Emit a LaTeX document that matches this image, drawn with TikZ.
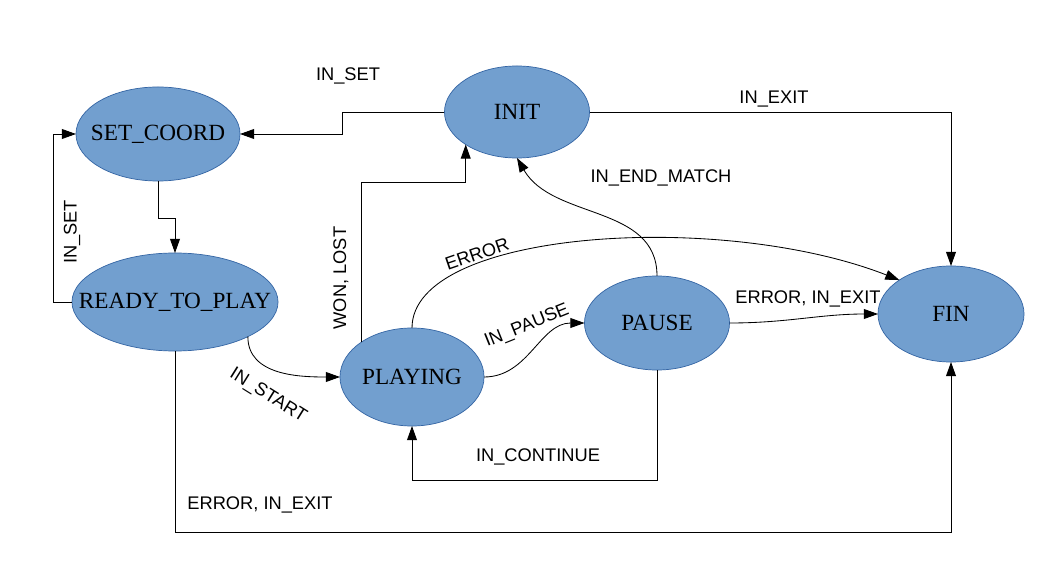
\documentclass[tikz,border=0pt]{standalone}
\usepackage{fontspec}
\setmainfont{Liberation Serif}
\setsansfont{Liberation Sans}
\usepackage{xcolor}
\usetikzlibrary{shapes.geometric,arrows.meta,positioning}

\definecolor{statefill}{HTML}{729FCF}
\definecolor{stateborder}{HTML}{3465A4}
\newcommand{\stname}[1]{\makebox[0pt]{#1}}

\begin{document}
\begin{tikzpicture}[
    x=0.025cm, y=-0.025cm,
    state/.style={ellipse, draw=stateborder, fill=statefill, line width=0.5pt, inner sep=0pt, outer sep=0pt, font=\fontsize{16.5}{18}\selectfont},
    arrow/.style={-{Triangle[length=10pt,width=7pt]}, line width=0.6pt},
    lbl/.style={font=\sffamily\fontsize{13}{15}\selectfont, inner sep=1pt}
]
    \fill[white] (0,0) rectangle (1056,576);
    \useasboundingbox (0,0) rectangle (1056,576);

    % States
    \node[state, minimum width=4.1cm, minimum height=2.35cm] (setc) at (158,134) {\stname{SET\_COORD}};
    \node[state, minimum width=3.625cm, minimum height=2.3cm] (init) at (517,112) {\stname{INIT}};
    \node[state, minimum width=5.15cm, minimum height=2.45cm] (ready) at (175,302) {\stname{READY\_TO\_PLAY}};
    \node[state, minimum width=3.6cm, minimum height=2.45cm] (playing) at (412,377) {\stname{PLAYING}};
    \node[state, minimum width=3.625cm, minimum height=2.35cm] (pause) at (657,323) {\stname{PAUSE}};
    \node[state, minimum width=3.65cm, minimum height=2.4cm] (fin) at (951,314) {\stname{FIN}};

    % Transitions
    \draw[arrow] (init.west) -- ++(-102,0) |- (setc.east);
    \draw[arrow] (init.east) -| (fin.north);
    \draw[arrow] (setc.south) -- ++(0,37) -| (ready.north);
    \draw[arrow] (ready.west) -- ++(-19,0) |- (setc.west);
    \draw[arrow] (ready.south east) to[out=-90,in=180] (playing.west);
    \draw[arrow] (ready.south) -- ++(0,181) -| (fin.south);
    \draw[arrow] (playing.north west) -- ++(0,-160) -| (init.south west);
    \draw[arrow] (playing.north) .. controls +(0,-98) and +(-179,-70) .. (fin.north west);
    \draw[arrow] (playing.east) to[out=0,in=180] (pause.west);
    \draw[arrow] (pause.south) -- ++(0,110) -| (playing.south);
    \draw[arrow] (pause.north) to[out=90,in=-60] (init.south);
    \draw[arrow] (pause.east) to[out=0,in=180] (fin.west);

    % Labels
    \node[lbl] (l_inset) at (348,76) {IN\_SET};
    \node[lbl] (l_inexit) at (774,99) {IN\_EXIT};
    \node[lbl] (l_endmatch) at (661,178) {IN\_END\_MATCH};
    \node[lbl, rotate=90] (l_set) at (72,232) {IN\_SET};
    \node[lbl, rotate=90] (l_wonlost) at (341,278) {WON, LOST};
    \node[lbl, rotate=-32] (l_start) at (268,396) {IN\_START};
    \node[lbl, rotate=19] (l_error) at (477,254) {ERROR};
    \node[lbl, rotate=22] (l_pause) at (527,326) {IN\_PAUSE};
    \node[lbl] (l_errexit) at (808,299) {ERROR, IN\_EXIT};
    \node[lbl] (l_continue) at (538,457) {IN\_CONTINUE};
    \node[lbl] (l_errexit2) at (260,505) {ERROR, IN\_EXIT};

\end{tikzpicture}
\end{document}
